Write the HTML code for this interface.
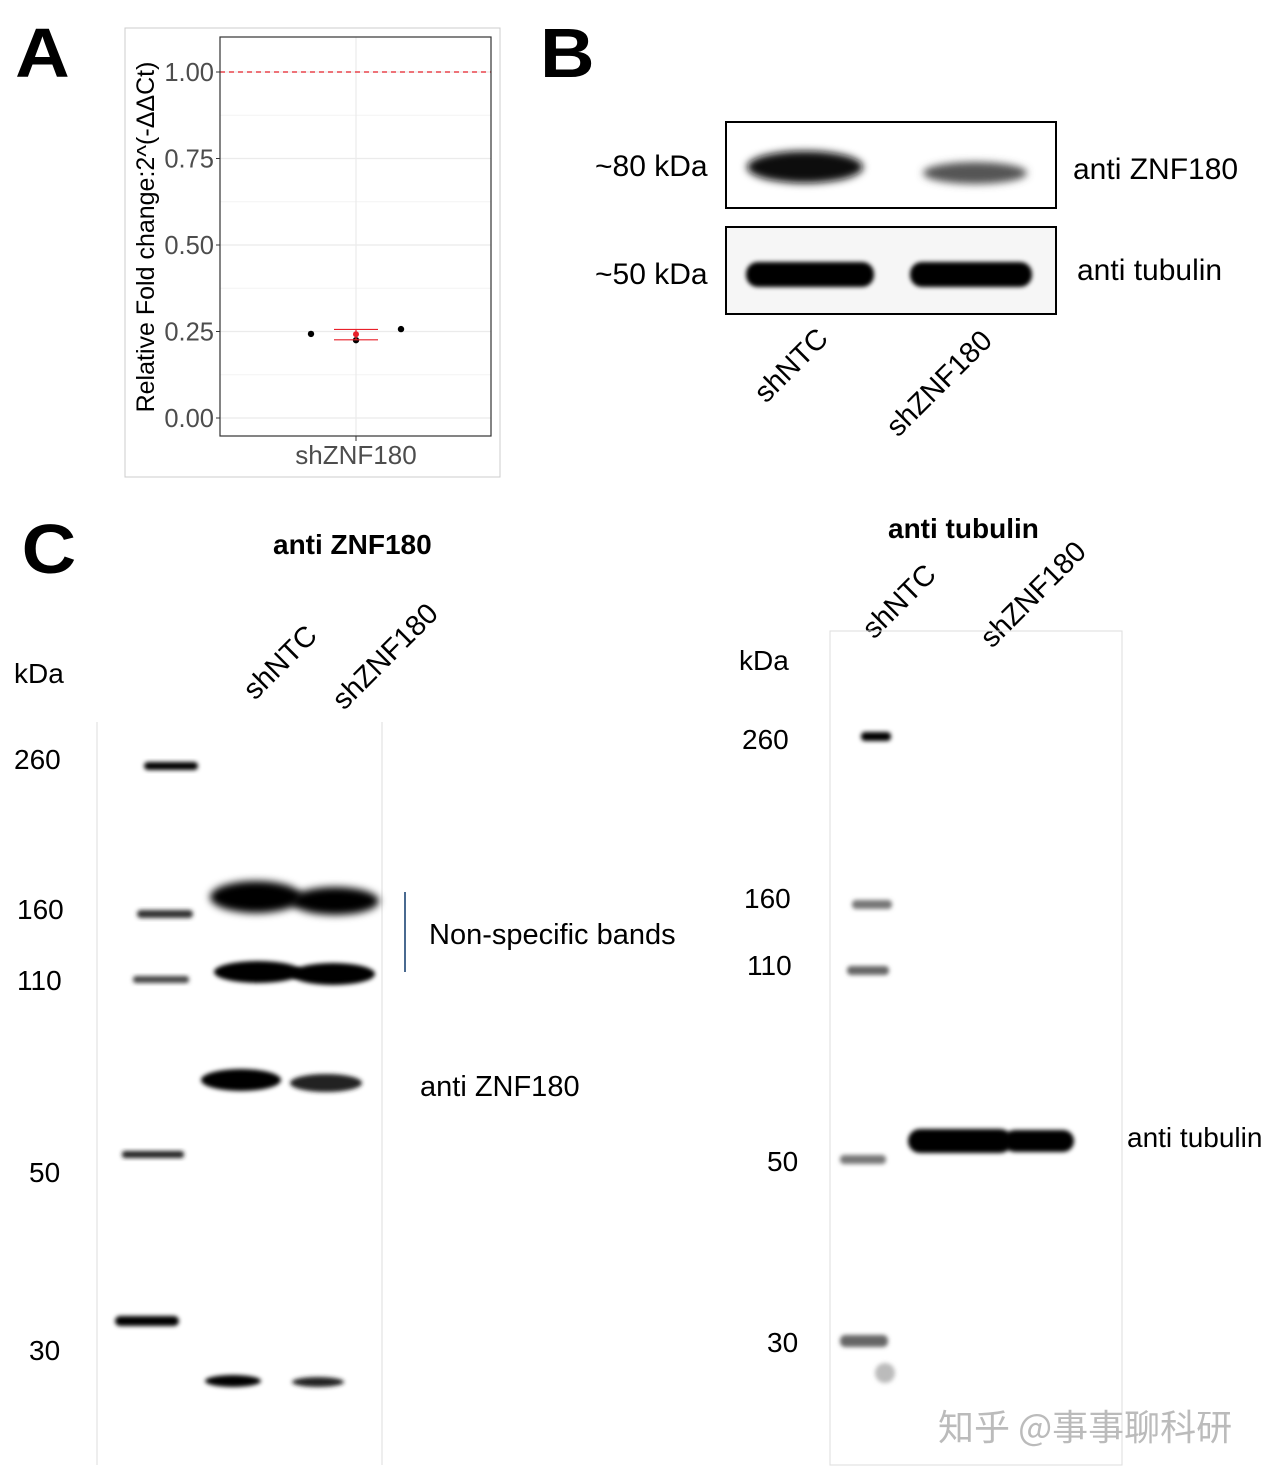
<!DOCTYPE html>
<html><head><meta charset="utf-8"><style>
body{margin:0;background:#fff;}
svg{display:block;font-family:"Liberation Sans","Noto Sans CJK SC",sans-serif;}
</style></head><body>
<svg width="1283" height="1478" viewBox="0 0 1283 1478">
<defs>
<filter id="b2" x="-50%" y="-50%" width="200%" height="200%"><feGaussianBlur stdDeviation="2"/></filter>
<filter id="b4" x="-50%" y="-50%" width="200%" height="200%"><feGaussianBlur stdDeviation="4"/></filter>
</defs>
<!-- Panel letters -->
<text x="14" y="77" font-size="70" font-weight="bold" transform="scale(1.08,1)">A</text>
<text x="500" y="77" font-size="70" font-weight="bold" transform="scale(1.08,1)">B</text>
<text x="20" y="573" font-size="70" font-weight="bold" transform="scale(1.08,1)">C</text>

<!-- Panel A -->
<g id="chartA">
<rect x="125" y="28" width="375" height="449" fill="#fff" stroke="#ccc"/>
</g>

<!-- Panel B -->
<g>
<text x="595" y="176" font-size="30">~80 kDa</text>
<text x="595" y="284" font-size="30">~50 kDa</text>
<rect x="726" y="122" width="330" height="86" fill="#fff" stroke="#000" stroke-width="2"/>
<ellipse cx="805" cy="167" rx="58" ry="16" fill="#111" filter="url(#b4)"/>
<ellipse cx="975" cy="173" rx="52" ry="11" fill="#555" filter="url(#b4)"/>
<rect x="726" y="227" width="330" height="87" fill="#f6f6f6" stroke="#000" stroke-width="2"/>
<rect x="746" y="262" width="128" height="25" rx="12" fill="#000" filter="url(#b2)"/>
<rect x="910" y="262" width="122" height="25" rx="12" fill="#000" filter="url(#b2)"/>
<text x="1073" y="179" font-size="30">anti ZNF180</text>
<text x="1077" y="280" font-size="30">anti tubulin</text>
<text transform="translate(766,404) rotate(-45)" font-size="29">shNTC</text>
<text transform="translate(898,438) rotate(-45)" font-size="29">shZNF180</text>
</g>

<!-- Panel C left -->
<g>
<text x="273" y="554" font-size="28" font-weight="bold">anti ZNF180</text>
<text transform="translate(255,701) rotate(-45)" font-size="29">shNTC</text>
<text transform="translate(344,711) rotate(-45)" font-size="29">shZNF180</text>
<text x="14" y="683" font-size="28">kDa</text>
<line x1="97" y1="722" x2="97" y2="1465" stroke="#ddd"/>
<line x1="382" y1="722" x2="382" y2="1465" stroke="#ddd"/>
<text x="14" y="769" font-size="28">260</text>
<text x="17" y="919" font-size="28">160</text>
<text x="17" y="990" font-size="28">110</text>
<text x="29" y="1182" font-size="28">50</text>
<text x="29" y="1360" font-size="28">30</text>
<g fill="#000">
<rect x="144" y="762" width="54" height="8" rx="4" filter="url(#b2)"/>
<rect x="137" y="910" width="56" height="8" rx="4" fill="#333" filter="url(#b2)"/>
<rect x="133" y="976" width="56" height="7" rx="3" fill="#444" filter="url(#b2)"/>
<rect x="122" y="1151" width="62" height="7" rx="3" fill="#222" filter="url(#b2)"/>
<rect x="115" y="1316" width="64" height="10" rx="5" filter="url(#b2)"/>
<ellipse cx="256" cy="897" rx="46" ry="16" filter="url(#b4)"/>
<ellipse cx="335" cy="901" rx="44" ry="14" filter="url(#b4)"/>
<ellipse cx="258" cy="972" rx="44" ry="11" filter="url(#b2)"/>
<ellipse cx="333" cy="974" rx="42" ry="11" filter="url(#b2)"/>
<ellipse cx="241" cy="1080" rx="40" ry="11" filter="url(#b2)"/>
<ellipse cx="326" cy="1083" rx="36" ry="9" fill="#222" filter="url(#b2)"/>
<ellipse cx="233" cy="1381" rx="28" ry="6" filter="url(#b2)"/>
<ellipse cx="318" cy="1382" rx="26" ry="5" fill="#222" filter="url(#b2)"/>
</g>
<line x1="405" y1="892" x2="405" y2="972" stroke="#4a6a90" stroke-width="2"/>
<text x="429" y="944" font-size="29">Non-specific bands</text>
<text x="420" y="1096" font-size="29">anti ZNF180</text>
</g>

<!-- Panel C right -->
<g>
<text x="888" y="538" font-size="28" font-weight="bold">anti tubulin</text>
<text transform="translate(874,640) rotate(-45)" font-size="29">shNTC</text>
<text transform="translate(992,649) rotate(-45)" font-size="29">shZNF180</text>
<text x="739" y="670" font-size="28">kDa</text>
<rect x="830" y="631" width="292" height="834" fill="none" stroke="#ddd"/>
<text x="742" y="749" font-size="28">260</text>
<text x="744" y="908" font-size="28">160</text>
<text x="747" y="975" font-size="28">110</text>
<text x="767" y="1171" font-size="28">50</text>
<text x="767" y="1352" font-size="28">30</text>
<rect x="861" y="732" width="30" height="9" rx="4" fill="#000" filter="url(#b2)"/>
<rect x="852" y="900" width="40" height="9" rx="4" fill="#777" filter="url(#b2)"/>
<rect x="847" y="966" width="42" height="9" rx="4" fill="#666" filter="url(#b2)"/>
<rect x="840" y="1155" width="46" height="9" rx="4" fill="#777" filter="url(#b2)"/>
<rect x="840" y="1335" width="48" height="12" rx="5" fill="#666" filter="url(#b2)"/>
<circle cx="885" cy="1373" r="10" fill="#bbb" filter="url(#b2)"/>
<rect x="908" y="1129" width="104" height="24" rx="12" fill="#000" filter="url(#b2)"/>
<rect x="1004" y="1130" width="70" height="22" rx="11" fill="#000" filter="url(#b2)"/>
<text x="1127" y="1147" font-size="28">anti tubulin</text>
</g>
<text x="938" y="1440" font-size="36" fill="#bbb" font-family="'Noto Sans CJK SC',sans-serif">知乎 @事事聊科研</text>
</svg>
<script>
const yTicks=[0,0.25,0.5,0.75,1.0];
const tickLabels=["0.00","0.25","0.50","0.75","1.00"];
const pointValues=[0.243,0.225,0.257];
const pointOffsets=[-1,0,1];
const meanValue=[0.242];
const errLow=[0.226];
const errHigh=[0.256];
const refLine=[1.0];
(function(){
const NS="http://www.w3.org/2000/svg";
const g=document.getElementById('chartA');
const X0=220,X1=491,Y0=37,Y1=436;
const y=v=>418-v*346;
const cx=356;
function el(t,a){const e=document.createElementNS(NS,t);for(const k in a)e.setAttribute(k,a[k]);g.appendChild(e);return e;}
let e=el('rect',{x:X0,y:Y0,width:X1-X0,height:Y1-Y0,fill:'#fff'});


for(let i=0;i<yTicks.length;i++){
 const v=yTicks[i];
 e=el('line',{x1:X0,x2:X1,y1:y(v),y2:y(v),stroke:'#ebebeb','stroke-width':1.2});
 
 
 if(i<yTicks.length-1){
 e=el('line',{x1:X0,x2:X1,y1:y(v+0.125),y2:y(v+0.125),stroke:'#f3f3f3','stroke-width':1});
 
 }
 e=el('line',{x1:X0-4,x2:X0,y1:y(v),y2:y(v),stroke:'#333'});
 
 
 e=el('text',{x:X0-6,y:y(v)+9,'text-anchor':'end','font-size':25.5,fill:'#4d4d4d'});
 e.textContent=tickLabels[i];
 
 
}
e=el('line',{x1:cx,x2:cx,y1:Y0,y2:Y1,stroke:'#ebebeb','stroke-width':1.2});


e=el('line',{x1:X0,x2:X1,y1:y(refLine[0]),y2:y(refLine[0]),stroke:'#e8202a','stroke-width':1.3,'stroke-dasharray':'5,4'});


e=el('rect',{x:X0,y:Y0,width:X1-X0,height:Y1-Y0,fill:'none',stroke:'#333','stroke-width':1.2});


e=el('line',{x1:cx,x2:cx,y1:Y1,y2:Y1+5,stroke:'#333'});


e=el('text',{x:cx,y:Y1+28,'text-anchor':'middle','font-size':26,fill:'#4d4d4d'});
e.textContent='shZNF180';


e=el('text',{transform:'translate(154,237) rotate(-90)','text-anchor':'middle','font-size':25,fill:'#000'});
e.textContent='Relative Fold change:2^(-ΔΔCt)';


for(let i=0;i<pointValues.length;i++){
 e=el('circle',{cx:cx+pointOffsets[i]*45,cy:y(pointValues[i]),r:3.2,fill:'#000'});
 
 
}
[errLow[0],errHigh[0]].forEach(v=>{
 e=el('line',{x1:cx-22,x2:cx+22,y1:y(v),y2:y(v),stroke:'#e8202a','stroke-width':1.2});
 
 
});
e=el('line',{x1:cx,x2:cx,y1:y(errLow[0]),y2:y(errHigh[0]),stroke:'#e8202a','stroke-width':1.2});


e=el('circle',{cx:cx,cy:y(meanValue[0]),r:3,fill:'#e8202a'});


})();
</script>
</body></html>
